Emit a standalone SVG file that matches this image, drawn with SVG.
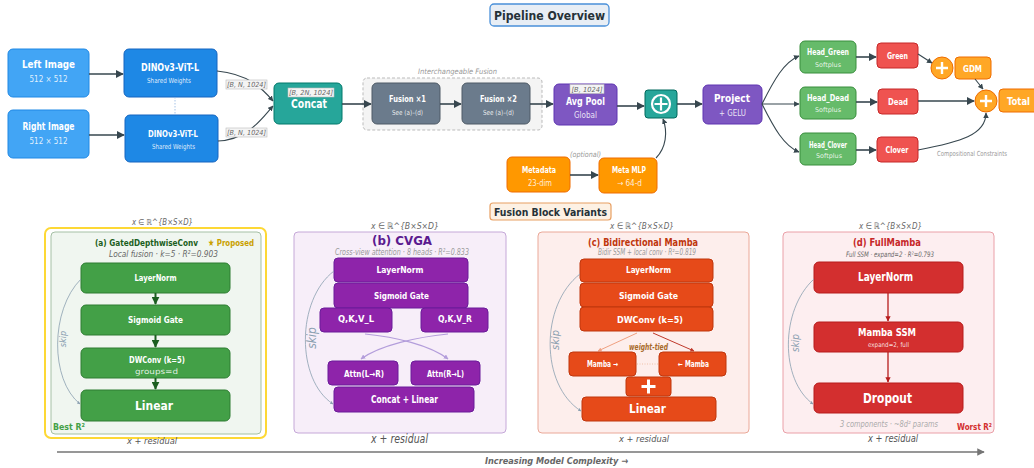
<svg xmlns="http://www.w3.org/2000/svg" width="1034" height="468" viewBox="0 0 1034 468">
<style>
text{font-family:"DejaVu Sans Condensed","DejaVu Sans",sans-serif;font-stretch:condensed;text-anchor:middle}
.b{font-weight:bold}
.w{fill:#fff}
.ws{fill:#fff;fill-opacity:.85}
.it{font-style:italic}
.g{fill:#666}
.lg{fill:#999}
.dim{fill:#555;font-style:italic}
.tag{fill:#f4f4f4;stroke:#bbb;stroke-width:.6}
.con{fill:none;stroke:#37474f;stroke-width:1.6}
.conT{fill:none;stroke:#37474f;stroke-width:1.1}
.skip{fill:none;stroke:#8a9fb0;stroke-width:.8}
.skipt{fill:#8a9fb0;font-style:italic}
</style>
<defs>
<marker id="ah" viewBox="0 0 10 10" refX="9" refY="5" markerWidth="5" markerHeight="5" orient="auto"><path d="M0,0 L10,5 L0,10 z" fill="#37474f"/></marker>
<marker id="ahS" viewBox="0 0 10 10" refX="9" refY="5" markerWidth="4" markerHeight="4" orient="auto"><path d="M0,0 L10,5 L0,10 z" fill="#8a9fb0"/></marker>
<marker id="ahG" viewBox="0 0 10 10" refX="9" refY="5" markerWidth="4" markerHeight="4" orient="auto"><path d="M0,0 L10,5 L0,10 z" fill="#1b5e20"/></marker>
<marker id="ahP" viewBox="0 0 10 10" refX="9" refY="5" markerWidth="4" markerHeight="4" orient="auto"><path d="M0,0 L10,5 L0,10 z" fill="#b39ddb"/></marker>
<marker id="ahO1" viewBox="0 0 10 10" refX="9" refY="5" markerWidth="4" markerHeight="4" orient="auto"><path d="M0,0 L10,5 L0,10 z" fill="#f0a080"/></marker>
<marker id="ahO2" viewBox="0 0 10 10" refX="9" refY="5" markerWidth="4" markerHeight="4" orient="auto"><path d="M0,0 L10,5 L0,10 z" fill="#c0392b"/></marker>
<marker id="ahR" viewBox="0 0 10 10" refX="9" refY="5" markerWidth="4" markerHeight="4" orient="auto"><path d="M0,0 L10,5 L0,10 z" fill="#b71c1c"/></marker>
<marker id="ahX" viewBox="0 0 10 10" refX="9" refY="5" markerWidth="5" markerHeight="5" orient="auto"><path d="M0,0 L10,5 L0,10 z" fill="#757575"/></marker>
</defs>
<rect width="1034" height="468" fill="#fff"/>

<!-- titles -->
<g id="title">
<rect x="490" y="4" width="119" height="22" rx="4" fill="#e8eef5" stroke="#4a90d9" stroke-width="1.3"/>
<text x="549.5" y="20" class="b" font-size="13" fill="#263238" textLength="111" lengthAdjust="spacingAndGlyphs">Pipeline Overview</text>
</g>

<!-- top nodes -->
<g id="left-image"><rect x="8" y="49" width="81" height="48" rx="5" fill="#42a5f5" stroke="#1e88e5"/>
<text x="48.5" y="68" class="b w" font-size="10" textLength="53" lengthAdjust="spacingAndGlyphs">Left Image</text>
<text x="48.5" y="82" class="ws" font-size="8.5" textLength="38" lengthAdjust="spacingAndGlyphs">512 × 512</text></g>
<g id="right-image"><rect x="8" y="110" width="81" height="48" rx="5" fill="#42a5f5" stroke="#1e88e5"/>
<text x="48.5" y="130" class="b w" font-size="10" textLength="52" lengthAdjust="spacingAndGlyphs">Right Image</text>
<text x="48.5" y="144" class="ws" font-size="8.5" textLength="38" lengthAdjust="spacingAndGlyphs">512 × 512</text></g>
<g id="dino-top"><rect x="124" y="49" width="93" height="48" rx="5" fill="#1e88e5" stroke="#1565c0"/>
<text x="170" y="71" class="b w" font-size="10.5" textLength="58" lengthAdjust="spacingAndGlyphs">DINOv3-ViT-L</text>
<text x="169" y="83" class="ws" font-size="7" textLength="44" lengthAdjust="spacingAndGlyphs">Shared Weights</text></g>
<g id="dino-bottom"><rect x="125" y="115" width="93" height="47" rx="5" fill="#1e88e5" stroke="#1565c0"/>
<text x="173" y="137" class="b w" font-size="9.5" textLength="50" lengthAdjust="spacingAndGlyphs">DINOv3-ViT-L</text>
<text x="173.5" y="149" class="ws" font-size="7" textLength="43" lengthAdjust="spacingAndGlyphs">Shared Weights</text></g>
<g id="concat"><rect x="274" y="83" width="68" height="41" rx="5" fill="#26a69a" stroke="#00796b"/>
<rect x="288" y="88" width="46" height="9" fill="#f4f4f4" stroke="#bbb" stroke-width=".6"/>
<text x="311" y="95" class="it g" font-size="7" textLength="44" lengthAdjust="spacingAndGlyphs">[B, 2N, 1024]</text>
<text x="309" y="108" class="b w" font-size="12" textLength="36" lengthAdjust="spacingAndGlyphs">Concat</text></g>
<g id="fusion-group"><rect x="363" y="78" width="179" height="52" rx="4" fill="#f4f4f4" stroke="#bbb" stroke-dasharray="3,2"/>
<text x="457.5" y="74" class="it lg" font-size="7.5" textLength="79" lengthAdjust="spacingAndGlyphs">Interchangeable Fusion</text></g>
<g id="fusion1"><rect x="372" y="83" width="68" height="41" rx="5" fill="#6b7b8c" stroke="#4f5b66"/>
<text x="407.5" y="102" class="b w" font-size="8.5" textLength="37" lengthAdjust="spacingAndGlyphs">Fusion ×1</text>
<text x="407.5" y="115" class="ws" font-size="7" textLength="31" lengthAdjust="spacingAndGlyphs">See (a)–(d)</text></g>
<g id="fusion2"><rect x="462" y="83" width="68" height="41" rx="5" fill="#6b7b8c" stroke="#4f5b66"/>
<text x="498.5" y="102" class="b w" font-size="8.5" textLength="37" lengthAdjust="spacingAndGlyphs">Fusion ×2</text>
<text x="498.5" y="115" class="ws" font-size="7" textLength="31" lengthAdjust="spacingAndGlyphs">See (a)–(d)</text></g>
<g id="avgpool"><rect x="554" y="84" width="63" height="41" rx="5" fill="#7e57c2" stroke="#5e35b1"/>
<rect x="570" y="84.5" width="34" height="9" fill="#f4f4f4" stroke="#bbb" stroke-width=".6"/>
<text x="587" y="92" class="it g" font-size="7" textLength="31" lengthAdjust="spacingAndGlyphs">[B, 1024]</text>
<text x="585.5" y="105" class="b w" font-size="10" textLength="39" lengthAdjust="spacingAndGlyphs">Avg Pool</text>
<text x="585.5" y="118" class="ws" font-size="9" textLength="23" lengthAdjust="spacingAndGlyphs">Global</text></g>
<g id="merge"><rect x="645" y="90" width="32" height="28" rx="3" fill="#26a69a" stroke="#00695c"/>
<circle cx="661" cy="104" r="9" fill="none" stroke="#fff" stroke-width="2.2"/>
<path d="M661,97.5 V110.5 M654.5,104 H667.5" stroke="#fff" stroke-width="2.2"/></g>
<g id="project"><rect x="703" y="85" width="59" height="39" rx="5" fill="#7e57c2" stroke="#5e35b1"/>
<text x="732" y="102" class="b w" font-size="11" textLength="36" lengthAdjust="spacingAndGlyphs">Project</text>
<text x="732.5" y="116" class="ws" font-size="9" textLength="27" lengthAdjust="spacingAndGlyphs">+ GELU</text></g>
<g id="metadata"><rect x="507" y="157" width="63" height="35" rx="5" fill="#ff9800" stroke="#ef6c00"/>
<text x="539" y="173" class="b w" font-size="8.5" textLength="34" lengthAdjust="spacingAndGlyphs">Metadata</text>
<text x="540" y="186" class="ws" font-size="8" textLength="24" lengthAdjust="spacingAndGlyphs">23-dim</text></g>
<g id="meta-mlp"><rect x="599" y="158" width="58" height="35" rx="5" fill="#ff9800" stroke="#ef6c00"/>
<text x="629" y="173" class="b w" font-size="8.5" textLength="34" lengthAdjust="spacingAndGlyphs">Meta MLP</text>
<text x="629.5" y="186" class="ws" font-size="8" textLength="25" lengthAdjust="spacingAndGlyphs">→ 64-d</text>
<text x="585.5" y="157" class="it lg" font-size="7.5" textLength="31" lengthAdjust="spacingAndGlyphs">(optional)</text></g>
<g id="head-green"><rect x="800" y="41" width="56" height="32" rx="5" fill="#66bb6a" stroke="#388e3c"/>
<text x="828" y="55" class="b w" font-size="8" textLength="42" lengthAdjust="spacingAndGlyphs">Head_Green</text>
<text x="828" y="67" class="ws" font-size="6.5" textLength="26" lengthAdjust="spacingAndGlyphs">Softplus</text></g>
<g id="head-dead"><rect x="800" y="87" width="56" height="32" rx="5" fill="#66bb6a" stroke="#388e3c"/>
<text x="828" y="101" class="b w" font-size="8" textLength="42" lengthAdjust="spacingAndGlyphs">Head_Dead</text>
<text x="828" y="112" class="ws" font-size="6.5" textLength="26" lengthAdjust="spacingAndGlyphs">Softplus</text></g>
<g id="head-clover"><rect x="800" y="133" width="56" height="32" rx="5" fill="#66bb6a" stroke="#388e3c"/>
<text x="828" y="148" class="b w" font-size="8" textLength="38" lengthAdjust="spacingAndGlyphs">Head_Clover</text>
<text x="829" y="158" class="ws" font-size="6.5" textLength="26" lengthAdjust="spacingAndGlyphs">Softplus</text></g>
<g id="green"><rect x="877" y="43" width="41" height="25" rx="4" fill="#ef5350" stroke="#c62828"/>
<text x="897.5" y="59" class="b w" font-size="8.5" textLength="21" lengthAdjust="spacingAndGlyphs">Green</text></g>
<g id="dead"><rect x="878" y="89" width="40" height="25" rx="4" fill="#ef5350" stroke="#c62828"/>
<text x="898" y="105" class="b w" font-size="9" textLength="20" lengthAdjust="spacingAndGlyphs">Dead</text></g>
<g id="clover"><rect x="877" y="137" width="41" height="25" rx="4" fill="#ef5350" stroke="#c62828"/>
<text x="897" y="153" class="b w" font-size="8.5" textLength="23" lengthAdjust="spacingAndGlyphs">Clover</text></g>
<g id="sum-gdm"><circle cx="942" cy="68" r="11" fill="#ffa726" stroke="#ef6c00"/>
<path d="M942,62 V74 M936,68 H948" stroke="#fff" stroke-width="2.4"/></g>
<g id="gdm"><rect x="955" y="57" width="36" height="22" rx="4" fill="#ffa726" stroke="#ef6c00"/>
<text x="972.5" y="72" class="b w" font-size="9" textLength="19" lengthAdjust="spacingAndGlyphs">GDM</text></g>
<g id="sum-total"><circle cx="986" cy="101" r="11" fill="#ffa726" stroke="#ef6c00"/>
<path d="M986,95 V107 M980,101 H992" stroke="#fff" stroke-width="2.4"/></g>
<g id="total"><rect x="999" y="89" width="40" height="23" rx="4" fill="#ffa726" stroke="#ef6c00"/>
<text x="1018.5" y="105" class="b w" font-size="10.5" textLength="23" lengthAdjust="spacingAndGlyphs">Total</text></g>
<text x="972" y="156" class="lg" font-size="7" textLength="70" lengthAdjust="spacingAndGlyphs">Compositional Constraints</text>

<!-- top connectors -->
<g id="connectors">
<line x1="89" y1="74" x2="123" y2="74" class="con" marker-end="url(#ah)"/>
<line x1="89" y1="135" x2="124" y2="135" class="con" marker-end="url(#ah)"/>
<line x1="175" y1="97" x2="175" y2="115" stroke="#90b4e0" stroke-width=".8" stroke-dasharray="1.5,1.5"/>
<path d="M217,71 C248,74 262,88 273,101" class="conT" marker-end="url(#ah)"/>
<path d="M218,141 C248,140 262,118 273,106" class="conT" marker-end="url(#ah)"/>
<rect x="226" y="80" width="41" height="9" class="tag"/>
<text x="246.5" y="87" class="it g" font-size="7" textLength="39" lengthAdjust="spacingAndGlyphs">[B, N, 1024]</text>
<rect x="226" y="128" width="41" height="9" class="tag"/>
<text x="246.5" y="135" class="it g" font-size="7" textLength="39" lengthAdjust="spacingAndGlyphs">[B, N, 1024]</text>
<line x1="342" y1="104" x2="371" y2="104" class="con" marker-end="url(#ah)"/>
<line x1="440" y1="104" x2="461" y2="104" class="con" marker-end="url(#ah)"/>
<line x1="530" y1="104" x2="553" y2="104" class="con" marker-end="url(#ah)"/>
<line x1="617" y1="106" x2="644" y2="106" class="con" marker-end="url(#ah)"/>
<line x1="677" y1="104" x2="702" y2="104" class="con" marker-end="url(#ah)"/>
<line x1="570" y1="175" x2="598" y2="175" class="con" marker-end="url(#ah)"/>
<path d="M656,158 C666,148 668,132 663,119" class="conT" marker-end="url(#ah)"/>
<path d="M762,104 C774,80 784,62 799,56" class="conT" marker-end="url(#ah)"/>
<line x1="762" y1="104" x2="799" y2="104" class="conT" marker-end="url(#ah)"/>
<path d="M762,104 C774,128 784,146 799,152" class="conT" marker-end="url(#ah)"/>
<line x1="856" y1="57" x2="876" y2="57" class="con" marker-end="url(#ah)"/>
<line x1="856" y1="102" x2="877" y2="102" class="con" marker-end="url(#ah)"/>
<line x1="856" y1="150" x2="876" y2="150" class="con" marker-end="url(#ah)"/>
<line x1="918" y1="54" x2="932" y2="63" class="conT" marker-end="url(#ah)"/>
<line x1="975" y1="79" x2="983" y2="89" class="conT" marker-end="url(#ah)"/>
<line x1="918" y1="101" x2="974" y2="101" class="con" marker-end="url(#ah)"/>
<path d="M918,150 C960,142 986,135 986,113" class="conT" marker-end="url(#ah)"/>
</g>

<!-- section label -->
<g id="variants-title">
<rect x="490" y="203" width="121" height="17" rx="3" fill="#fdf1e4" stroke="#e8a063" stroke-width="1.2"/>
<text x="550.5" y="216" class="b" font-size="11" fill="#263238" textLength="113" lengthAdjust="spacingAndGlyphs">Fusion Block Variants</text>
</g>

<!-- panel a -->
<g id="panel-a">
<rect x="45" y="228" width="221" height="210" rx="6" fill="#fff" stroke="#fdd835" stroke-width="2"/>
<rect x="51" y="232" width="210" height="202" rx="4" fill="#f0f6f0" stroke="#a5c0a5"/>
<text x="162.5" y="225" class="it g" font-size="8.5" textLength="61" lengthAdjust="spacingAndGlyphs">x ∈ ℝ^{B×S×D}</text>
<text x="146.5" y="246" class="b" font-size="8.5" fill="#1b5e20" textLength="103" lengthAdjust="spacingAndGlyphs">(a) GatedDepthwiseConv</text>
<text x="231" y="246" class="b" font-size="9.5" fill="#c9a000" textLength="46" lengthAdjust="spacingAndGlyphs">★ Proposed</text>
<text x="163.5" y="257" class="it g" font-size="8.5" textLength="109" lengthAdjust="spacingAndGlyphs">Local fusion · k=5 · R²=0.903</text>
<rect x="81" y="263" width="149" height="30" rx="5" fill="#43a047" stroke="#2e7d32"/>
<text x="155.5" y="281" class="b w" font-size="9.5" textLength="42" lengthAdjust="spacingAndGlyphs">LayerNorm</text>
<rect x="81" y="305" width="149" height="30" rx="5" fill="#43a047" stroke="#2e7d32"/>
<text x="155.5" y="323" class="b w" font-size="9.5" textLength="55" lengthAdjust="spacingAndGlyphs">Sigmoid Gate</text>
<rect x="81" y="348" width="149" height="30" rx="5" fill="#43a047" stroke="#2e7d32"/>
<text x="157" y="363" class="b w" font-size="9.5" textLength="56" lengthAdjust="spacingAndGlyphs">DWConv (k=5)</text>
<text x="156.5" y="373.5" class="ws" font-size="7.5" textLength="43" lengthAdjust="spacingAndGlyphs">groups=d</text>
<rect x="81" y="390" width="149" height="31" rx="5" fill="#43a047" stroke="#2e7d32"/>
<text x="154" y="410" class="b w" font-size="13" textLength="38" lengthAdjust="spacingAndGlyphs">Linear</text>
<line x1="155.5" y1="293" x2="155.5" y2="304" stroke="#1b5e20" stroke-width="2" marker-end="url(#ahG)"/>
<line x1="155.5" y1="335" x2="155.5" y2="347" stroke="#1b5e20" stroke-width="2" marker-end="url(#ahG)"/>
<line x1="155.5" y1="378" x2="155.5" y2="389" stroke="#1b5e20" stroke-width="2" marker-end="url(#ahG)"/>
<path d="M81,279 C50,310 50,380 80,404" class="skip" marker-end="url(#ahS)"/>
<text transform="translate(66,339) rotate(-90)" class="skipt" font-size="9">skip</text>
<text x="53" y="430" class="b" font-size="9" fill="#43a047" style="text-anchor:start" textLength="32" lengthAdjust="spacingAndGlyphs">Best R²</text>
<text x="152" y="444" class="dim" font-size="9.5" textLength="50" lengthAdjust="spacingAndGlyphs">x + residual</text>
</g>

<!-- panel b -->
<g id="panel-b">
<rect x="294" y="232" width="212" height="201" rx="4" fill="#f7eef9" stroke="#c5a8d8"/>
<text x="405" y="229" class="it g" font-size="9" textLength="68" lengthAdjust="spacingAndGlyphs">x ∈ ℝ^{B×S×D}</text>
<text x="402" y="245" class="b" font-size="13" fill="#5b1a8f" textLength="60" lengthAdjust="spacingAndGlyphs">(b) CVGA</text>
<text x="402" y="255" class="it lg" font-size="9" textLength="134" lengthAdjust="spacingAndGlyphs">Cross-view attention · 8 heads · R²=0.833</text>
<rect x="334" y="258" width="134" height="24" rx="4" fill="#8e24aa" stroke="#6a1b9a"/>
<text x="400" y="273" class="b w" font-size="9" textLength="47" lengthAdjust="spacingAndGlyphs">LayerNorm</text>
<rect x="334" y="283" width="134" height="25" rx="4" fill="#8e24aa" stroke="#6a1b9a"/>
<text x="401.5" y="299" class="b w" font-size="9.5" textLength="55" lengthAdjust="spacingAndGlyphs">Sigmoid Gate</text>
<rect x="320" y="308" width="72" height="24" rx="4" fill="#8e24aa" stroke="#6a1b9a"/>
<text x="356" y="322" class="b w" font-size="8" textLength="36" lengthAdjust="spacingAndGlyphs">Q,K,V_L</text>
<rect x="421" y="308" width="67" height="24" rx="4" fill="#8e24aa" stroke="#6a1b9a"/>
<text x="455" y="322" class="b w" font-size="8" textLength="34" lengthAdjust="spacingAndGlyphs">Q,K,V_R</text>
<path d="M365,334 C395,337 430,345 448,359" fill="none" stroke="#b39ddb" stroke-width="1.2" marker-end="url(#ahP)"/>
<path d="M448,334 C418,337 380,345 361,359" fill="none" stroke="#b39ddb" stroke-width="1.2" marker-end="url(#ahP)"/>
<rect x="328" y="361" width="70" height="24" rx="4" fill="#8e24aa" stroke="#6a1b9a"/>
<text x="364" y="377" class="b w" font-size="8.5" textLength="40" lengthAdjust="spacingAndGlyphs">Attn(L→R)</text>
<rect x="411" y="361" width="69" height="24" rx="4" fill="#8e24aa" stroke="#6a1b9a"/>
<text x="445.5" y="377" class="b w" font-size="8.5" textLength="37" lengthAdjust="spacingAndGlyphs">Attn(R→L)</text>
<rect x="334" y="387" width="140" height="25" rx="4" fill="#8e24aa" stroke="#6a1b9a"/>
<text x="404.5" y="403" class="b w" font-size="11" textLength="67" lengthAdjust="spacingAndGlyphs">Concat + Linear</text>
<path d="M334,271 C296,300 296,380 333,404" class="skip" marker-end="url(#ahS)"/>
<text transform="translate(316,338) rotate(-90)" class="skipt" font-size="12">skip</text>
<text x="399.5" y="443" class="dim" font-size="12" textLength="57" lengthAdjust="spacingAndGlyphs">x + residual</text>
</g>

<!-- panel c -->
<g id="panel-c">
<rect x="538" y="232" width="211" height="201" rx="4" fill="#fdeeec" stroke="#eaa898"/>
<text x="642" y="229" class="it g" font-size="9" textLength="64" lengthAdjust="spacingAndGlyphs">x ∈ ℝ^{B×S×D}</text>
<text x="643" y="246" class="b" font-size="11" fill="#bf360c" textLength="110" lengthAdjust="spacingAndGlyphs">(c) Bidirectional Mamba</text>
<text x="647" y="255" class="it lg" font-size="8" textLength="98" lengthAdjust="spacingAndGlyphs">Bidir SSM + local conv · R²=0.819</text>
<rect x="580" y="259" width="133" height="23" rx="4" fill="#e64a19" stroke="#bf360c"/>
<text x="648.5" y="273" class="b w" font-size="9" textLength="45" lengthAdjust="spacingAndGlyphs">LayerNorm</text>
<rect x="580" y="283" width="133" height="24" rx="4" fill="#e64a19" stroke="#bf360c"/>
<text x="648.5" y="299" class="b w" font-size="9.5" textLength="59" lengthAdjust="spacingAndGlyphs">Sigmoid Gate</text>
<rect x="580" y="307" width="133" height="24" rx="4" fill="#e64a19" stroke="#bf360c"/>
<text x="650" y="323" class="b w" font-size="9.5" textLength="66" lengthAdjust="spacingAndGlyphs">DWConv (k=5)</text>
<line x1="637" y1="333" x2="598" y2="351" stroke="#f0a080" stroke-width="1" marker-end="url(#ahO1)"/>
<line x1="653" y1="333" x2="694" y2="351" stroke="#c0392b" stroke-width="1" marker-end="url(#ahO2)"/>
<text x="648.5" y="350" class="b it" font-size="8" fill="#a86a2a" textLength="39" lengthAdjust="spacingAndGlyphs">weight-tied</text>
<rect x="569" y="352" width="67" height="24" rx="4" fill="#e64a19" stroke="#bf360c"/>
<text x="602.5" y="367" class="b w" font-size="8" textLength="31" lengthAdjust="spacingAndGlyphs">Mamba →</text>
<rect x="659" y="352" width="67" height="24" rx="4" fill="#e64a19" stroke="#bf360c"/>
<text x="693.5" y="367" class="b w" font-size="8" textLength="31" lengthAdjust="spacingAndGlyphs">← Mamba</text>
<line x1="637" y1="364" x2="658" y2="364" stroke="#f0c0a8" stroke-width="1" stroke-dasharray="1,1.5"/>
<rect x="626" y="377" width="45" height="19" rx="3" fill="#e64a19" stroke="#bf360c"/>
<path d="M648.5,379.5 V393.5 M641.5,386.5 H655.5" stroke="#fff" stroke-width="3"/>
<rect x="582" y="397" width="134" height="24" rx="4" fill="#e64a19" stroke="#bf360c"/>
<text x="647.5" y="413" class="b w" font-size="12" textLength="37" lengthAdjust="spacingAndGlyphs">Linear</text>
<path d="M580,274 C540,305 540,385 581,411" class="skip" marker-end="url(#ahS)"/>
<text transform="translate(559,340) rotate(-90)" class="skipt" font-size="11">skip</text>
<text x="644" y="442" class="dim" font-size="9.5" textLength="50" lengthAdjust="spacingAndGlyphs">x + residual</text>
</g>

<!-- panel d -->
<g id="panel-d">
<rect x="783" y="232" width="211" height="201" rx="4" fill="#fdeef0" stroke="#eaa0a8"/>
<text x="890.5" y="229" class="it g" font-size="9" textLength="63" lengthAdjust="spacingAndGlyphs">x ∈ ℝ^{B×S×D}</text>
<text x="887" y="246" class="b" font-size="11" fill="#c62828" textLength="68" lengthAdjust="spacingAndGlyphs">(d) FullMamba</text>
<text x="890" y="257" class="it g" font-size="7.5" textLength="88" lengthAdjust="spacingAndGlyphs">Full SSM · expand=2 · R²=0.793</text>
<rect x="814" y="262" width="149" height="31" rx="5" fill="#d32f2f" stroke="#b71c1c"/>
<text x="885.5" y="281" class="b w" font-size="12" textLength="55" lengthAdjust="spacingAndGlyphs">LayerNorm</text>
<rect x="814" y="322" width="149" height="30" rx="5" fill="#d32f2f" stroke="#b71c1c"/>
<text x="887" y="336" class="b w" font-size="10.5" textLength="58" lengthAdjust="spacingAndGlyphs">Mamba SSM</text>
<text x="888.5" y="347" class="ws" font-size="6.5" textLength="41" lengthAdjust="spacingAndGlyphs">expand=2, full</text>
<rect x="814" y="383" width="149" height="30" rx="5" fill="#d32f2f" stroke="#b71c1c"/>
<text x="887.5" y="403" class="b w" font-size="14" textLength="49" lengthAdjust="spacingAndGlyphs">Dropout</text>
<line x1="888" y1="293" x2="888" y2="321" stroke="#b71c1c" stroke-width="1.3" marker-end="url(#ahR)"/>
<line x1="888" y1="352" x2="888" y2="382" stroke="#b71c1c" stroke-width="1.3" marker-end="url(#ahR)"/>
<path d="M814,279 C780,310 780,380 813,404" class="skip" marker-end="url(#ahS)"/>
<text transform="translate(799,343) rotate(-90)" class="skipt" font-size="10">skip</text>
<text x="889" y="427" class="it" fill="#aaa" font-size="8" textLength="98" lengthAdjust="spacingAndGlyphs">3 components · ~8d² params</text>
<text x="974.5" y="430" class="b" fill="#d32f2f" font-size="9" textLength="35" lengthAdjust="spacingAndGlyphs">Worst R²</text>
<text x="893" y="442" class="dim" font-size="10" textLength="50" lengthAdjust="spacingAndGlyphs">x + residual</text>
</g>

<g id="complexity-axis">
<line x1="57" y1="452" x2="984" y2="452" stroke="#757575" stroke-width="1.5" marker-end="url(#ahX)"/>
<text x="556.5" y="464" class="b it" fill="#666" font-size="9.5" textLength="143" lengthAdjust="spacingAndGlyphs">Increasing Model Complexity →</text>
</g>
</svg>
